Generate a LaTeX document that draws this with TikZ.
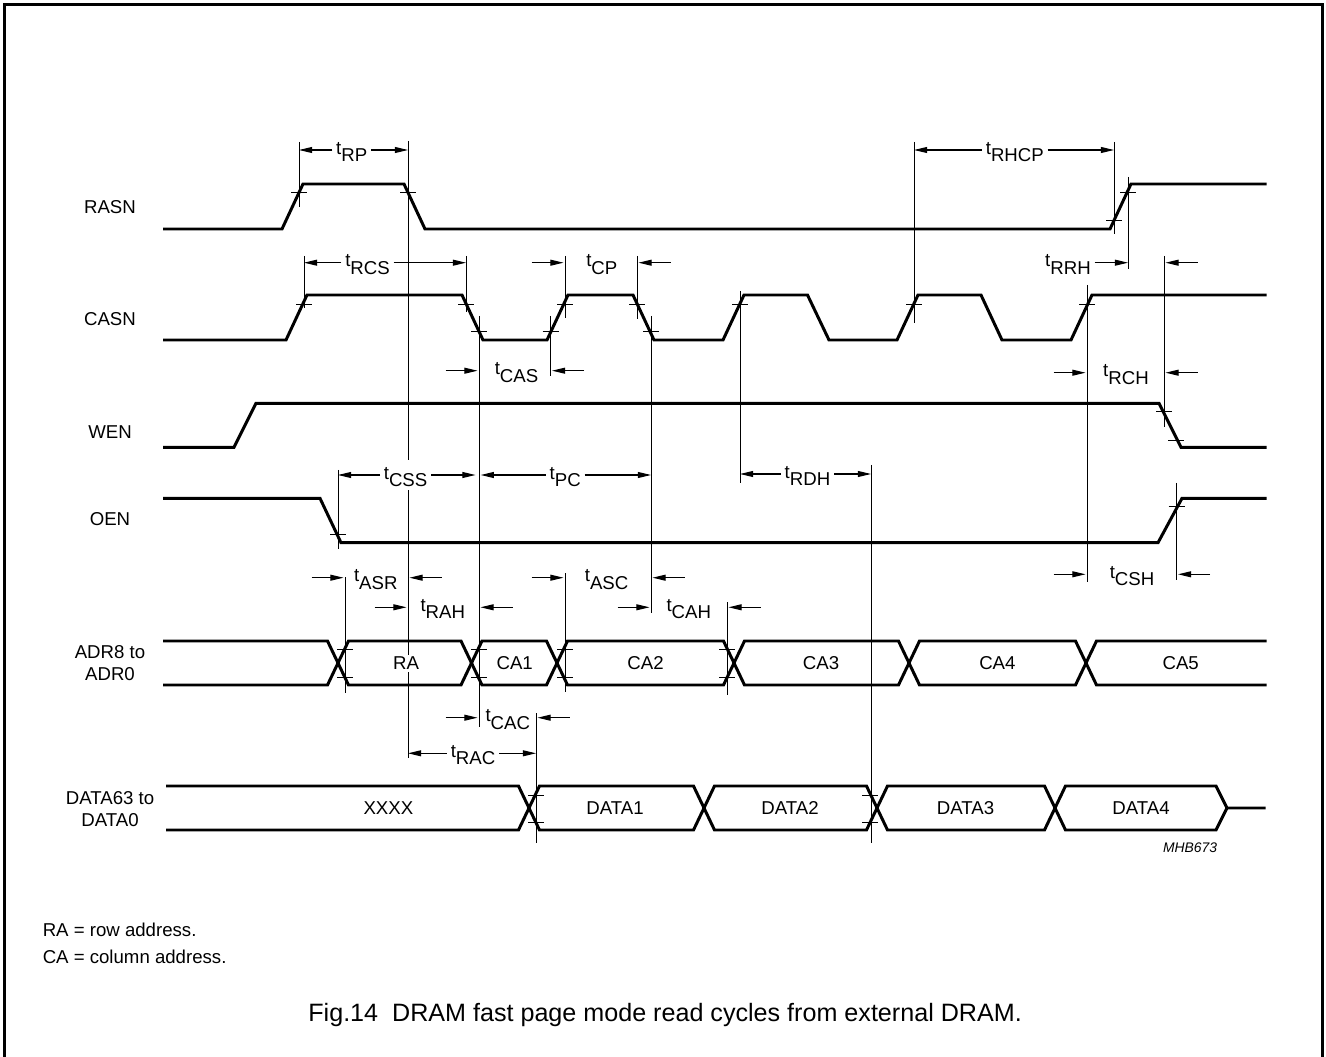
\documentclass[tikz,border=0pt]{standalone}
\usepackage{fontspec}
\setmainfont{Liberation Sans}
\usetikzlibrary{arrows.meta}
\newcommand{\tnm}[1]{\rule{0pt}{0.85em}t\raisebox{-0.39em}{#1}}
\tikzset{
  sig/.style={line width=1.7pt},
  refline/.style={line width=0.55pt},
  tarr/.style={line width=0.6pt,-{Triangle[length=7.5pt,width=3.4pt]}},
  tlbl/.style={fill=white,inner sep=2pt,font=\fontsize{10.6}{12.7}\selectfont},
  sname/.style={align=center,inner sep=0pt,font=\fontsize{10.6}{12.75}\selectfont},
  blbl/.style={fill=white,inner sep=1pt,font=\fontsize{10.6}{12.7}\selectfont},
}
\begin{document}
\begin{tikzpicture}[x=0.02cm,y=-0.02cm]
\useasboundingbox (0,0) rectangle (1326,1057);
\draw[line width=1.2pt] (4.5,1057) -- (4.5,4.5) -- (1322.5,4.5) -- (1322.5,1057);

% signal names
\node[sname] (rasn) at (110,207.3) {RASN};
\node[sname] (casn) at (110,319) {CASN};
\node[sname] (wen) at (110,431.7) {WEN};
\node[sname] (oen) at (110,519) {OEN};
\node[sname] (adr) at (110,663.2) {ADR8 to\\ADR0};
\node[sname] (data) at (110,809.2) {DATA63 to\\DATA0};

% waveforms
\draw[sig] (163,229) -- (282,229) -- (303,184) -- (404,184) -- (425,229) -- (1110,229) -- (1131,184) -- (1266.5,184);
\draw[sig] (163,340) -- (286,340) -- (307,295) -- (462,295) -- (483,340) -- (547,340) -- (568,295) -- (633,295) -- (654,340)
  -- (723,340) -- (744,295) -- (807.5,295) -- (829,340) -- (897,340) -- (918,295) -- (981,295) -- (1002,340) -- (1071,340)
  -- (1092,295) -- (1266.5,295);
\draw[sig] (163,447.3) -- (234,447.3) -- (256,403.3) -- (1159,403.3) -- (1181,447.3) -- (1266.5,447.3);
\draw[sig] (163,498.3) -- (320,498.3) -- (341,542.7) -- (1158,542.7) -- (1182,498.3) -- (1266.5,498.3);
% address bus
\draw[sig] (163,641) -- (327.5,641) -- (348.5,685) -- (461,685) -- (482,641) -- (546.5,641) -- (567.5,685) -- (723.5,685)
  -- (744.5,641) -- (898.5,641) -- (919.5,685) -- (1075.5,685) -- (1096.5,641) -- (1266.5,641);
\draw[sig] (163,685) -- (327.5,685) -- (348.5,641) -- (461,641) -- (482,685) -- (546.5,685) -- (567.5,641) -- (723.5,641)
  -- (744.5,685) -- (898.5,685) -- (919.5,641) -- (1075.5,641) -- (1096.5,685) -- (1266.5,685);
% data bus
\draw[sig] (166,786) -- (518.5,786) -- (539.5,830) -- (693.5,830) -- (714.5,786) -- (866.5,786) -- (887.5,830) -- (1044.5,830)
  -- (1065.5,786) -- (1216,786) -- (1227,808) -- (1265.5,808);
\draw[sig] (166,830) -- (518.5,830) -- (539.5,786) -- (693.5,786) -- (714.5,830) -- (866.5,830) -- (887.5,786) -- (1044.5,786)
  -- (1065.5,830) -- (1216,830) -- (1227,808);

% reference lines
\coordinate (lRP1) at (299,142);
\coordinate (lRP2) at (408,141);
\coordinate (lRCS1) at (304,256);
\coordinate (lRCS2) at (466,256);
\coordinate (lCAS1) at (479,316);
\coordinate (lCAS2) at (550.5,316);
\coordinate (lCP1) at (565,256);
\coordinate (lCP2) at (637,256);
\coordinate (lPC2) at (651,316);
\coordinate (lRDH1) at (740,291);
\coordinate (lHCP1) at (914,142);
\coordinate (lHCP2) at (1114,142);
\coordinate (lRRH) at (1128,177);
\coordinate (lRCH1) at (1087,285);
\coordinate (lRCH2) at (1164,256);
\coordinate (lCSS1) at (338,470);
\coordinate (lASR1) at (345,577);
\coordinate (lASC1) at (565,573);
\coordinate (lCAH2) at (727,602);
\coordinate (lRDH2) at (871,465);
\coordinate (lCSH2) at (1176.5,483);
\coordinate (lCAC2) at (536,713);
\foreach \c/\l in {lRP1/65,lRP2/617,lRCS1/52,lRCS2/56,lCAS1/411,lCAS2/60,lCP1/62,lCP2/63,lPC2/297,lRDH1/192,
  lHCP1/181,lHCP2/92,lRRH/92,lRCH1/297,lRCH2/171,lCSS1/79,lASR1/116,lASC1/119,lCAH2/93,lRDH2/378,lCSH2/97,lCAC2/130}
  \draw[refline] (\c) -- ++(0,\l);
\foreach \x/\y in {299/192.7,408/192.7,1114/220.7,1128/192.7,304/304,466/304,479/331.7,550.5/331.7,565/304,637/304,
  651/331.7,740/304,914/304,1087/304,1164/411.7,1176/440,338/534.3,1176.5/506.7,345/649.3,345/677.3,479/649.3,479/677.3,
  565/649.3,565/677.3,727/649.3,727/677.3,536/795,536/822,870/795,870/822}
  \draw[refline] (\x-8,\y) -- (\x+8,\y);

% bus contents
\node[blbl] (ra) at (406,663.5) {RA};
\node[blbl] (ca1) at (514.7,663.5) {CA1};
\node[blbl] (ca2) at (645.6,663.5) {CA2};
\node[blbl] (ca3) at (821,663.5) {CA3};
\node[blbl] (ca4) at (997.4,663.5) {CA4};
\node[blbl] (ca5) at (1180.7,663.5) {CA5};
\node[blbl] (dx) at (388.4,808) {XXXX};
\node[blbl] (d1) at (615,808) {DATA1};
\node[blbl] (d2) at (790,808) {DATA2};
\node[blbl] (d3) at (965.5,808) {DATA3};
\node[blbl] (d4) at (1141,808) {DATA4};
\node[font=\fontsize{7.9}{9}\selectfont\itshape,inner sep=0pt] (mhb) at (1190,847.3) {MHB673};

% timing labels, arrows between the lines
\node[tlbl] (rp) at (351.7,150) {\tnm{RP}};
\draw[tarr] (rp.west) -- (rp.west -| lRP1);
\draw[tarr] (rp.east) -- (rp.east -| lRP2);
\node[tlbl] (rcs) at (367.5,262.7) {\tnm{RCS}};
\draw[tarr] (rcs.west) -- (rcs.west -| lRCS1);
\draw[tarr] (rcs.east) -- (rcs.east -| lRCS2);
\node[tlbl] (rhcp) at (1014.8,150) {\tnm{RHCP}};
\draw[tarr] (rhcp.west) -- (rhcp.west -| lHCP1);
\draw[tarr] (rhcp.east) -- (rhcp.east -| lHCP2);
\node[tlbl] (css) at (405.6,475) {\tnm{CSS}};
\draw[tarr] (css.west) -- (css.west -| lCSS1);
\draw[tarr] (css.east) -- ([xshift=-2pt]css.east -| lCAS1);
\node[tlbl] (pc) at (565.2,475) {\tnm{PC}};
\draw[tarr] (pc.west) -- ([xshift=1pt]pc.west -| lCAS1);
\draw[tarr] (pc.east) -- (pc.east -| lPC2);
\node[tlbl] (rdh) at (807.5,474) {\tnm{RDH}};
\draw[tarr] (rdh.west) -- (rdh.west -| lRDH1);
\draw[tarr] (rdh.east) -- (rdh.east -| lRDH2);
\node[tlbl] (rac) at (473,753.3) {\tnm{RAC}};
\draw[tarr] (rac.west) -- (rac.west -| lRP2);
\draw[tarr] (rac.east) -- (rac.east -| lCAC2);
\node[tlbl] (rrh) at (1068,262.7) {\tnm{RRH}};
\draw[tarr] (rrh.east) -- (rrh.east -| lRRH);
\draw[tarr] (rrh.east -| lRCH2) ++(33.5,0) -- ++(-32,0);

% timing labels, arrows from outside
\node[tlbl] (cp) at (601.8,262.7) {\tnm{CP}};
\draw[tarr] (cp.west -| lCP1) ++(-33.5,0) -- ++(32,0);
\draw[tarr] (cp.east -| lCP2) ++(33.5,0) -- ++(-32,0);
\node[tlbl] (cas) at (516.5,370.7) {\tnm{CAS}};
\draw[tarr] (cas.west -| lCAS1) ++(-33.5,0) -- ++(32,0);
\draw[tarr] (cas.east -| lCAS2) ++(33.5,0) -- ++(-32,0);
\node[tlbl] (rch) at (1126,372.7) {\tnm{RCH}};
\draw[tarr] (rch.west -| lRCH1) ++(-33.5,0) -- ++(32,0);
\draw[tarr] (rch.east -| lRCH2) ++(33.5,0) -- ++(-32,0);
\node[tlbl] (asr) at (375.8,577.7) {\tnm{ASR}};
\draw[tarr] (asr.west -| lASR1) ++(-33.5,0) -- ++(32,0);
\draw[tarr] (asr.east -| lRP2) ++(33.5,0) -- ++(-32,0);
\node[tlbl] (rah) at (442.8,607.3) {\tnm{RAH}};
\draw[tarr] (rah.west -| lRP2) ++(-33.5,0) -- ++(32,0);
\draw[tarr] (rah.east -| lCAS1) ++(33.5,0) -- ++(-32,0);
\node[tlbl] (asc) at (606.6,577.7) {\tnm{ASC}};
\draw[tarr] (asc.west -| lASC1) ++(-33.5,0) -- ++(32,0);
\draw[tarr] (asc.east -| lPC2) ++(33.5,0) -- ++(-32,0);
\node[tlbl] (cah) at (688.8,607.3) {\tnm{CAH}};
\draw[tarr] (cah.west -| lPC2) ++(-33.5,0) -- ++(32,0);
\draw[tarr] (cah.east -| lCAH2) ++(33.5,0) -- ++(-32,0);
\node[tlbl] (csh) at (1132,574.3) {\tnm{CSH}};
\draw[tarr] (csh.west -| lRCH1) ++(-33.5,0) -- ++(32,0);
\draw[tarr] (csh.east -| lCSH2) ++(33.5,0) -- ++(-32,0);
\node[tlbl] (cac) at (507.8,717.7) {\tnm{CAC}};
\draw[tarr] (cac.west -| lCAS1) ++(-33.5,0) -- ++(32,0);
\draw[tarr] (cac.east -| lCAC2) ++(33.5,0) -- ++(-32,0);

% notes and caption
\node[anchor=base west,inner sep=0pt,font=\fontsize{10.6}{12.7}\selectfont] (nra) at (42.4,936) {RA = row address.};
\node[anchor=base west,inner sep=0pt,font=\fontsize{10.6}{12.7}\selectfont] (nca) at (42.4,963.3) {CA = column address.};
\node[anchor=base west,inner sep=0pt,font=\fontsize{14.3}{16}\selectfont] (cap) at (308,1021.7)
  {Fig.14\ \ DRAM fast page mode read cycles from external DRAM.};
\end{tikzpicture}
\end{document}
